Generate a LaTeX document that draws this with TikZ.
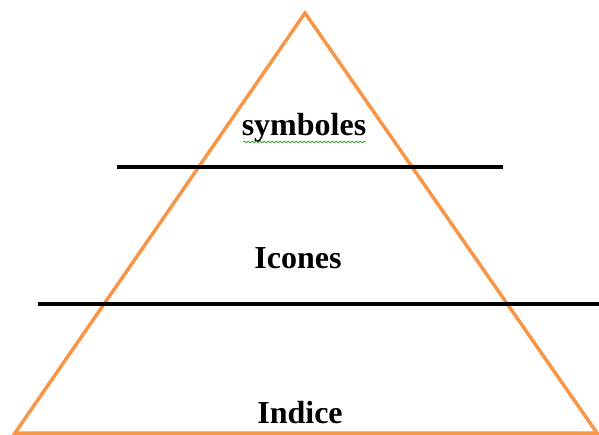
\documentclass[tikz,border=0pt]{standalone}
\usepackage{fontspec}
\setmainfont{Liberation Serif}
\usetikzlibrary{decorations.pathmorphing}
\definecolor{triorange}{RGB}{247,150,70}
\definecolor{spellgreen}{RGB}{60,170,60}
\begin{document}
\begin{tikzpicture}[x=1pt,y=-1pt,
  edge/.style={draw=triorange,line width=3.5pt,line join=miter},
  bar/.style={draw=black,line width=4pt},
  lbl/.style={font=\bfseries\fontsize{32}{36}\selectfont,anchor=base,inner sep=0pt}]
\useasboundingbox (0,0) rectangle (599,435);
\coordinate (apex) at (305,13);
\coordinate (bl) at (15,433);
\coordinate (br) at (597,433);
\draw[edge] (bl) -- (apex) -- (br) -- cycle;
\coordinate (b1l) at (117,167);
\coordinate (b1r) at (503,167);
\coordinate (b2l) at (38,304);
\coordinate (b2r) at (599,304);
\draw[bar] (b1l) -- (b1r);
\draw[bar] (b2l) -- (b2r);
\node[lbl] (sym) at (304,136) {symboles};
\node[lbl] (ico) at (298,269) {Icones};
\node[lbl] (ind) at (300,423) {Indice};
\coordinate (wl) at (243,142);
\coordinate (wr) at (366,142);
\draw[spellgreen,line width=0.8pt,decorate,decoration={snake,amplitude=0.9pt,segment length=4pt}] (wl) -- (wr);
\end{tikzpicture}
\end{document}
